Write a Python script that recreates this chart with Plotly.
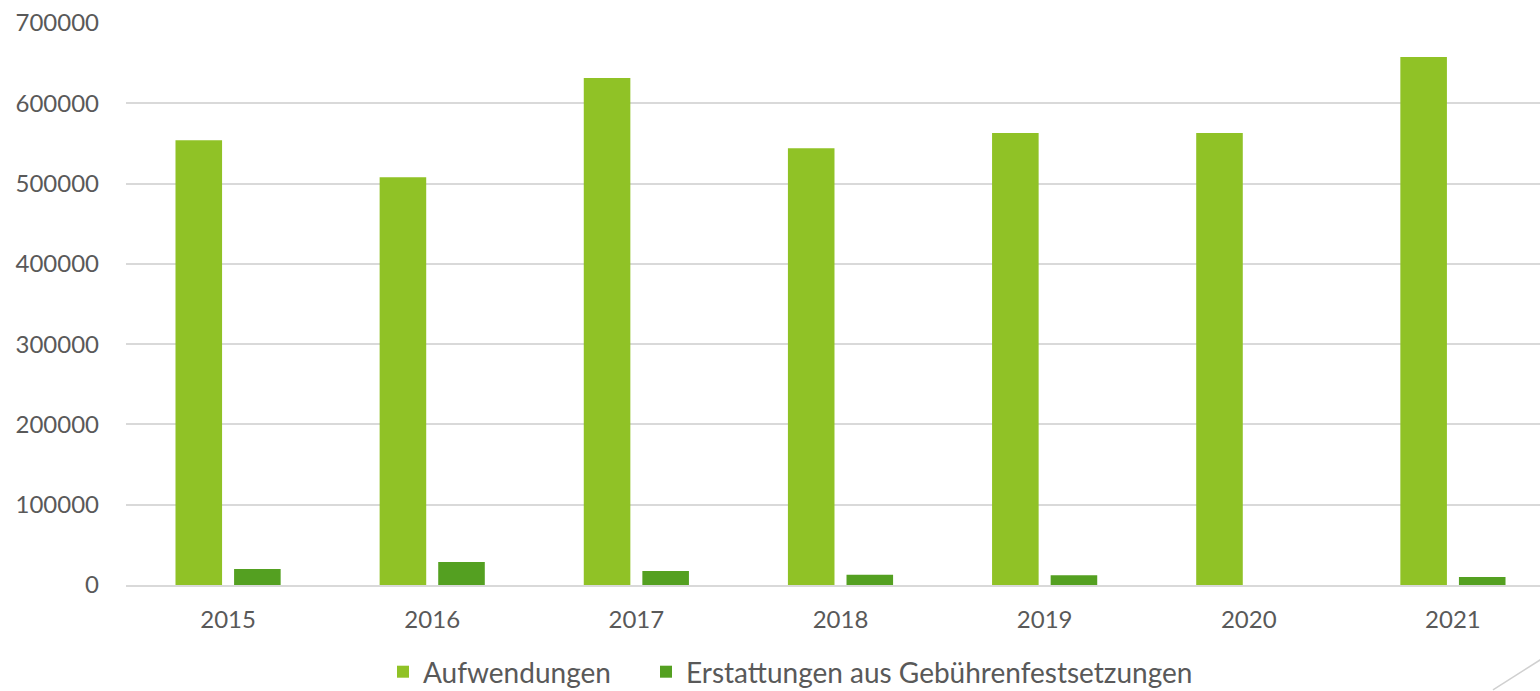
import plotly.graph_objects as go

years = ["2015", "2016", "2017", "2018", "2019", "2020", "2021"]
aufwendungen = [554000, 508000, 631500, 544000, 563000, 563000, 657700]
erstattungen = [20000, 28600, 17400, 12800, 12100, 0, 10000]
y_ticks = [0, 100000, 200000, 300000, 400000, 500000, 600000, 700000]

font_family = "Lato, 'DejaVu Sans Condensed', sans-serif"
text_color = "#595959"

fig = go.Figure()
fig.add_trace(go.Bar(x=years, y=aufwendungen, name="Aufwendungen",
                     marker=dict(color="#90C226", line=dict(width=0)), legend="legend"))
fig.add_trace(go.Bar(x=years, y=erstattungen, name="Erstattungen aus Gebührenfestsetzungen",
                     marker=dict(color="#54A021", line=dict(width=0)), legend="legend2"))

legend_common = dict(orientation="h", xref="container", xanchor="left",
                     yref="container", y=1 - 672 / 691, yanchor="middle",
                     font=dict(size=28, color=text_color), itemwidth=30,
                     bgcolor="rgba(0,0,0,0)")

fig.update_layout(
    width=1555, height=691,
    margin=dict(l=126, r=0, t=23, b=106),
    paper_bgcolor="white", plot_bgcolor="white",
    barmode="group", bargap=0.426, bargroupgap=0.205,
    font=dict(family=font_family, size=24, color=text_color),
    showlegend=True,
    legend=dict(x=(397 - 14) / 1555, **legend_common),
    legend2=dict(x=(660 - 14) / 1555, **legend_common),
    xaxis=dict(showgrid=False, showline=True, linecolor="#D9D9D9", linewidth=2,
               ticks="", ticklabelstandoff=12, tickfont=dict(size=24, color=text_color)),
    yaxis=dict(range=[0, 700000], tickvals=y_ticks, ticktext=[str(v) for v in y_ticks],
               showgrid=True, gridcolor="#D9D9D9", gridwidth=1.5, zeroline=False,
               showline=False, ticks="", ticklabelstandoff=26,
               tickfont=dict(size=24, color=text_color)),
    shapes=[dict(type="line", xref="paper", yref="paper", x0=0.9566, y0=-0.1868, x1=1.0, y1=-0.1164,
                 line=dict(color="#D0D0D0", width=1.5))],
)

fig.write_html("out.html", config={"displayModeBar": False},
               post_script="document.body.style.margin='0';document.body.style.overflow='hidden';")
